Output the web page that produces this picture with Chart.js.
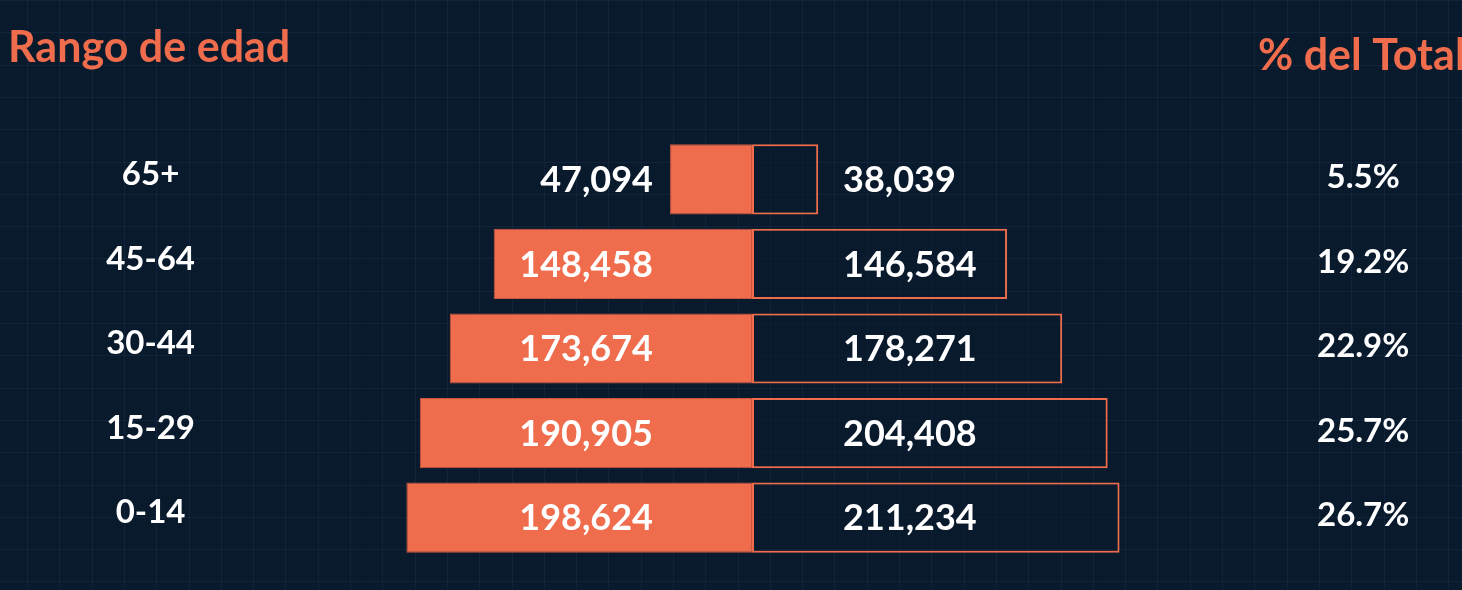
<!DOCTYPE html>
<html>
<head>
<meta charset="utf-8">
<script src="https://cdn.jsdelivr.net/npm/chart.js@4"></script>
<style>
html, body { margin: 0; padding: 0; background: #0a1a2d; }
#wrap { width: 1462px; height: 590px; }
</style>
</head>
<body>
<div id="wrap"><canvas id="piramide"></canvas></div>
<script>
var rangos = ['65+', '45-64', '30-44', '15-29', '0-14'];
var hombres = [47094, 148458, 173674, 190905, 198624];
var mujeres = [38039, 146584, 178271, 204408, 211234];
var porcentajes = ['5.5%', '19.2%', '22.9%', '25.7%', '26.7%'];

var naranja = '#ef6c4d';
var fondoColor = '#0a1a2d';

// fondo con cuadricula
var fondo = {
    id: 'fondo',
    beforeDraw: function (chart) {
        var c = chart.ctx;
        c.save();
        c.fillStyle = fondoColor;
        c.fillRect(0, 0, chart.width, chart.height);
        c.strokeStyle = 'rgba(32, 62, 98, 0.28)';
        c.lineWidth = 1;
        c.beginPath();
        for (var x = 27; x < chart.width; x += 32.3) {
            c.moveTo(Math.round(x) + 0.5, 0);
            c.lineTo(Math.round(x) + 0.5, chart.height);
        }
        for (var y = 0; y < chart.height; y += 32.3) {
            c.moveTo(0, Math.round(y) + 0.5);
            c.lineTo(chart.width, Math.round(y) + 0.5);
        }
        c.stroke();
        c.restore();
    }
};

// encabezados
var encabezados = {
    id: 'encabezados',
    afterDraw: function (chart) {
        var c = chart.ctx;
        c.save();
        c.fillStyle = naranja;
        c.font = 'bold 43px Lato';
        c.textAlign = 'left';
        c.textBaseline = 'alphabetic';
        c.fillText('Rango de edad', 8, 62);
        c.fillText('% del Total', 1258, 70);
        c.restore();
    }
};

// etiquetas de valores
var valores = {
    id: 'valores',
    afterDatasetsDraw: function (chart) {
        var c = chart.ctx;
        var cx = chart.scales.x.getPixelForValue(0);
        c.save();
        c.fillStyle = '#ffffff';
        c.font = 'bold 36px Lato';
        c.textBaseline = 'middle';
        chart.getDatasetMeta(0).data.forEach(function (bar, i) {
            c.textAlign = 'right';
            c.fillText(hombres[i].toLocaleString('en-US'), cx - 99, bar.y + 1);
        });
        chart.getDatasetMeta(1).data.forEach(function (bar, i) {
            c.textAlign = 'left';
            c.fillText(mujeres[i].toLocaleString('en-US'), cx + 91, bar.y + 1);
        });
        c.restore();
    }
};

var ctx = document.getElementById('piramide').getContext('2d');
var myChart = new Chart(ctx, {
    type: 'bar',
    data: {
        labels: rangos,
        datasets: [{
                label: 'Hombres',
                data: hombres.map(function (v) { return -v; }),
                backgroundColor: naranja,
                borderColor: '#c95740',
                borderWidth: 1,
                borderSkipped: false
            },
            {
                label: 'Mujeres',
                data: mujeres,
                backgroundColor: 'rgba(10, 26, 45, 0.5)',
                borderColor: naranja,
                borderWidth: 2,
                borderSkipped: false
            }
        ]
    },
    options: {
        indexAxis: 'y',
        responsive: true,
        maintainAspectRatio: false,
        animation: false,
        layout: { padding: { top: 137, bottom: 30, left: 0, right: 0 } },
        datasets: { bar: { categoryPercentage: 1, barPercentage: 0.83 } },
        plugins: {
            legend: { display: false },
            tooltip: { enabled: false }
        },
        scales: {
            x: {
                display: false,
                stacked: true,
                min: -250000,
                max: 250000
            },
            y: {
                stacked: true,
                position: 'left',
                grid: { display: false },
                border: { display: false },
                ticks: {
                    color: '#ffffff',
                    font: { family: 'Lato', size: 33, weight: 'bold' },
                    crossAlign: 'center',
                    padding: 114,
                    labelOffset: -5
                },
                afterFit: function (s) {
                    s.width = 317;
                    s.paddingTop = 0;
                    s.paddingBottom = 0;
                }
            },
            y2: {
                type: 'category',
                labels: porcentajes,
                position: 'right',
                offset: true,
                grid: { display: false },
                border: { display: false },
                ticks: {
                    color: '#ffffff',
                    font: { family: 'Lato', size: 33, weight: 'bold' },
                    crossAlign: 'center',
                    padding: 122,
                    labelOffset: -2
                },
                afterFit: function (s) {
                    s.width = 275;
                    s.paddingTop = 0;
                    s.paddingBottom = 0;
                }
            }
        }
    },
    plugins: [fondo, valores, encabezados]
});
</script>
</body>
</html>
